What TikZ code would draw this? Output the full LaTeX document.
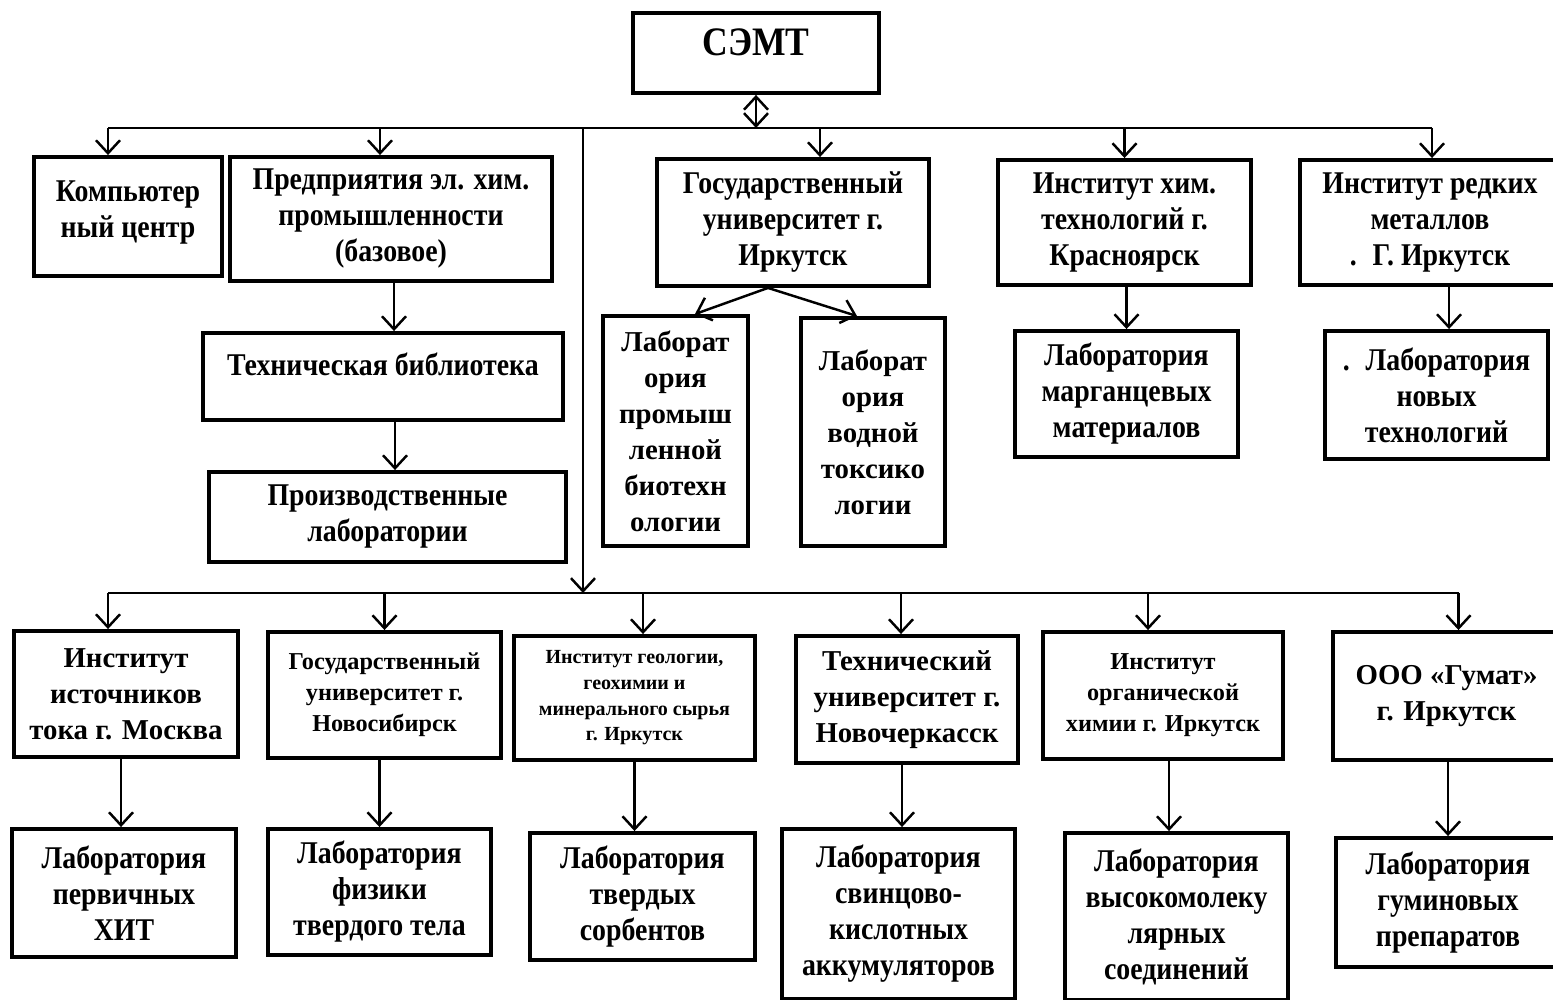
\documentclass[tikz,border=0pt]{standalone}
\usepackage{fontspec}
\setmainfont{Liberation Serif}
\newfontfamily\narrowfont{Liberation Serif}[FakeStretch=0.88]
\usetikzlibrary{arrows, arrows.meta}

\begin{document}
\begin{tikzpicture}[>={Straight Barb[length=1.3mm,width=2.4mm]},
  box/.style={draw, line width=1.1pt, align=center, inner sep=0pt,
    font=\narrowfont\bfseries\fontsize{9}{10.24}\selectfont},
  wide/.style={font=\bfseries\fontsize{8.2}{10.24}\selectfont},
  small/.style={font=\bfseries\fontsize{6.9}{8.8}\selectfont},
  tiny/.style={font=\bfseries\fontsize{5.7}{7.3}\selectfont},
  link/.style={line width=0.7pt}]
\useasboundingbox (0,0) rectangle (15.53,-10);

% top level
\node[box, minimum width=2.46cm, text height=0.43cm, text depth=0.37cm, font=\narrowfont\bfseries\fontsize{11.5}{13}\selectfont] (semt) at (7.56,-0.53) {СЭМТ};
\node[box, minimum width=1.88cm, minimum height=1.19cm] (comp) at (1.28,-2.165) {Компьютер\\ный центр\\[-0.22cm]};
\node[box, minimum width=3.22cm, minimum height=1.24cm] (pred) at (3.91,-2.19) {Предприятия эл. хим.\\промышленности\\(базовое)};
\node[box, minimum width=2.72cm, minimum height=1.27cm] (gosirk) at (7.93,-2.225) {Государственный\\университет г.\\Иркутск};
\node[box, minimum width=2.53cm, minimum height=1.25cm] (krasn) at (11.245,-2.225) {Институт хим.\\технологий г.\\Красноярск};
\node[box, minimum width=2.60cm, minimum height=1.25cm] (redk) at (14.30,-2.225) {Институт редких\\металлов\\.\enspace Г. Иркутск};

% labs, upper half
\node[box, minimum width=3.60cm, text height=0.43cm, text depth=0.44cm] (techlib) at (3.83,-3.765) {Техническая библиотека};
\node[box, minimum width=3.57cm, minimum height=0.90cm] (prodlab) at (3.875,-5.17) {Производственные\\лаборатории};
\node[box, wide, minimum width=1.45cm, minimum height=2.30cm] (labbio) at (6.755,-4.31) {Лаборат\\ория\\промыш\\ленной\\биотехн\\ологии};
\node[box, wide, minimum width=1.44cm, minimum height=2.28cm] (labvod) at (8.73,-4.32) {Лаборат\\ория\\водной\\токсико\\логии};
\node[box, minimum width=2.23cm, minimum height=1.26cm] (labmarg) at (11.265,-3.94) {Лаборатория\\марганцевых\\материалов};
\node[box, minimum width=2.23cm, minimum height=1.28cm] (labnew) at (14.365,-3.95) {.\enspace Лаборатория\\новых\\технологий};

% second level
\node[box, wide, minimum width=2.24cm, minimum height=1.26cm] (instist) at (1.26,-6.94) {Институт\\источников\\тока г. Москва};
\node[box, small, minimum width=2.33cm, minimum height=1.26cm] (gosnsk) at (3.845,-6.95) {Государственный\\университет г.\\Новосибирск};
\node[box, tiny, minimum width=2.41cm, minimum height=1.24cm] (geol) at (6.345,-6.98) {Институт геологии,\\геохимии и\\минерального сырья\\г. Иркутск};
\node[box, wide, minimum width=2.22cm, minimum height=1.27cm] (technov) at (9.07,-6.995) {Технический\\университет г.\\Новочеркасск};
\node[box, small, minimum width=2.40cm, minimum height=1.27cm] (org) at (11.63,-6.955) {Институт\\органической\\химии г. Иркутск};
\node[box, wide, minimum width=2.27cm, minimum height=1.28cm] (gumat) at (14.465,-6.96) {ООО «Гумат»\\г. Иркутск};

% labs, lower half
\node[box, minimum width=2.24cm, minimum height=1.28cm] (labhit) at (1.24,-8.93) {Лаборатория\\первичных\\ХИТ};
\node[box, minimum width=2.23cm, minimum height=1.26cm] (labfiz) at (3.795,-8.92) {Лаборатория\\физики\\твердого тела};
\node[box, minimum width=2.25cm, minimum height=1.27cm] (labsorb) at (6.425,-8.965) {Лаборатория\\твердых\\сорбентов};
\node[box, minimum width=2.33cm, minimum height=1.70cm] (labsvin) at (8.985,-9.14) {Лаборатория\\свинцово-\\кислотных\\аккумуляторов};
\node[box, minimum width=2.23cm, minimum height=1.67cm] (labvys) at (11.765,-9.165) {Лаборатория\\высокомолеку\\лярных\\соединений};
\node[box, minimum width=2.24cm, minimum height=1.29cm] (labgum) at (14.48,-9.025) {Лаборатория\\гуминовых\\препаратов};

% buses
\coordinate (tb) at (0,-1.28);
\coordinate (bb) at (0,-5.93);
\coordinate (split) at (5.83,-1.28);
\draw[link] ([xshift=-2mm]comp.north |- tb) -- ([xshift=0.2mm]redk.north |- tb);
\draw[link,<->] (semt.south) -- (semt.south |- tb);
\draw[link,->] ([xshift=-2mm]comp.north |- tb) -- ([xshift=-2mm]comp.north);
\draw[link,->] ([xshift=-1.1mm]pred.north |- tb) -- ([xshift=-1.1mm]pred.north);
\draw[link,->] ([xshift=2.7mm]gosirk.north |- tb) -- ([xshift=2.7mm]gosirk.north);
\draw[link,->] (krasn.north |- tb) -- (krasn.north);
\draw[link,->] ([xshift=0.2mm]redk.north |- tb) -- ([xshift=0.2mm]redk.north);
\draw[link,->] (split) -- (split |- bb);

\draw[link] ([xshift=-1.8mm]instist.north |- bb) -- ([xshift=1.2mm]gumat.north |- bb);
\draw[link,->] ([xshift=-1.8mm]instist.north |- bb) -- ([xshift=-1.8mm]instist.north);
\draw[link,->] (gosnsk.north |- bb) -- (gosnsk.north);
\draw[link,->] ([xshift=0.85mm]geol.north |- bb) -- ([xshift=0.85mm]geol.north);
\draw[link,->] ([xshift=-0.6mm]technov.north |- bb) -- ([xshift=-0.6mm]technov.north);
\draw[link,->] ([xshift=-1.5mm]org.north |- bb) -- ([xshift=-1.5mm]org.north);
\draw[link,->] ([xshift=1.2mm]gumat.north |- bb) -- ([xshift=1.2mm]gumat.north);

% down to the labs
\draw[link,->] ([xshift=0.3mm]pred.south) -- ([xshift=0.3mm]pred.south |- techlib.north);
\draw[link,->] ([xshift=1.2mm]techlib.south) -- ([xshift=1.2mm]techlib.south |- prodlab.north);
\draw[link,->] ([xshift=-2.5mm]gosirk.south) -- ([xshift=1.95mm]labbio.north);
\draw[link,->] ([xshift=-2.5mm]gosirk.south) -- ([xshift=-1.6mm]labvod.north);
\draw[link,->] (labmarg.north |- krasn.south) -- (labmarg.north);
\draw[link,->] ([xshift=1.9mm]redk.south) -- ([xshift=1.9mm]redk.south |- labnew.north);

\draw[link,->] ([xshift=-0.5mm]instist.south) -- ([xshift=-0.5mm]instist.south |- labhit.north);
\draw[link,->] (labfiz.north |- gosnsk.south) -- (labfiz.north);
\draw[link,->] (geol.south) -- (geol.south |- labsorb.north);
\draw[link,->] ([xshift=-0.5mm]technov.south) -- ([xshift=-0.5mm]technov.south |- labsvin.north);
\draw[link,->] ([xshift=0.6mm]org.south) -- ([xshift=0.6mm]org.south |- labvys.north);
\draw[link,->] (labgum.north |- gumat.south) -- (labgum.north);
\end{tikzpicture}
\end{document}
